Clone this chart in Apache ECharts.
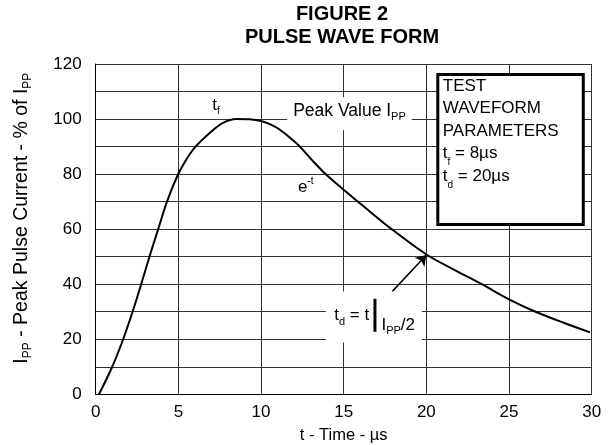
<!DOCTYPE html>
<html><head><meta charset="utf-8">
<script src="https://cdn.jsdelivr.net/npm/echarts@6/dist/echarts.min.js"></script>
<style>html,body{margin:0;padding:0;background:#fff}#c{width:608px;height:445px}</style>
</head><body><div id="c"></div>
<script>
// ---- data ----
const timeUs = [0.2, 1.0, 1.66, 2.23, 2.75, 3.25, 3.78, 4.31, 4.95, 5.5, 6.04, 7.0, 7.7, 8.5, 9.3, 10.0, 10.6, 11.1, 11.7, 12.3, 13.1, 13.9, 15.0, 16.4, 17.9, 20.0, 21.6, 23.35, 25.0, 26.6, 28.3, 29.9];
const currentPct = [0, 10, 20, 30, 40, 50, 60, 70, 79.5, 85.5, 90, 95.5, 98.6, 100, 99.9, 99.3, 98, 96.3, 93.5, 90.3, 85, 80, 74.3, 67.3, 60, 50.8, 45.5, 40, 34.5, 30, 26, 22.5];
const xTicks = [0, 5, 10, 15, 20, 25, 30];
const yTicks = [0, 20, 40, 60, 80, 100, 120];
const titleLines = ['FIGURE 2', 'PULSE WAVE FORM'];
const boxLines = ['TEST', 'WAVEFORM', 'PARAMETERS'];
const tfValue = '8µs';
const tdValue = '20µs';

const FONT = '"Liberation Sans", Arial, Helvetica, sans-serif';
const main = (fs, lh) => ({fontSize: fs, fontFamily: FONT, color: '#000', lineHeight: lh || 20, verticalAlign: 'top'});
const sub = (fs) => ({fontSize: fs, fontFamily: FONT, color: '#000', lineHeight: 6, verticalAlign: 'bottom'});

const chart = echarts.init(document.getElementById('c'), null, {renderer: 'canvas'});
const points = timeUs.map((t, i) => [t, currentPct[i]]);

function mp(coord, label) {
  return {coord: coord, symbol: 'circle', symbolSize: 0, label: Object.assign({show: true, position: 'inside'}, label)};
}

const option = {
  animation: false,
  backgroundColor: '#fff',
  title: {
    text: titleLines.join('\n'),
    left: 337, top: -2, textAlign: 'center',
    textStyle: {fontFamily: FONT, fontWeight: 'bold', fontSize: 20, lineHeight: 23, color: '#000'}
  },
  grid: {left: 95.7, right: 16.3, top: 64, bottom: 50.7, containLabel: false, outerBoundsMode: 'none'},
  xAxis: {
    type: 'value', min: xTicks[0], max: xTicks[xTicks.length - 1], interval: xTicks[1] - xTicks[0],
    name: 't - Time - µs', nameLocation: 'middle', nameGap: 33,
    nameTextStyle: {fontFamily: FONT, fontSize: 16.5, color: '#000'},
    axisLine: {lineStyle: {color: '#000', width: 1}},
    axisTick: {show: false},
    axisLabel: {fontFamily: FONT, fontSize: 17, color: '#000', margin: 10},
    splitLine: {show: true, lineStyle: {color: '#333', width: 1}}
  },
  yAxis: {
    type: 'value', min: yTicks[0], max: yTicks[yTicks.length - 1], interval: 10,
    name: '{m|I}{s|PP}{m| - Peak Pulse Current - % of I}{s|PP}',
    nameLocation: 'middle', nameGap: 62, nameRotate: 90,
    nameTextStyle: {fontFamily: FONT, fontSize: 19.5, color: '#000', padding: [0, 0, 0, 22],
      rich: {m: main(19.5, 22), s: sub(12)}},
    axisLine: {show: true, lineStyle: {color: '#000', width: 1}},
    axisTick: {show: false},
    axisLabel: {fontFamily: FONT, fontSize: 17, color: '#000', margin: 14,
      formatter: (v) => (yTicks.indexOf(v) >= 0 ? String(v) : '')},
    splitLine: {show: true, lineStyle: {color: '#333', width: 1}}
  },
  series: [{
    type: 'line',
    data: points,
    showSymbol: false,
    smooth: 0.3,
    lineStyle: {color: '#000', width: 2},
    z: 3,
    markLine: {
      silent: true, symbolSize: 10,
      label: {show: false},
      lineStyle: {color: '#000', width: 1.5, type: 'solid'},
      data: [[{coord: [17.93, 37.3], symbol: 'none'}, {coord: [20, 50.6], symbol: 'arrow'}]]
    },
    markPoint: {
      silent: true,
      data: [
        mp([7.28, 104.5], {formatter: '{m|t}{s|f}', rich: {m: main(17), s: sub(10)}}),
        mp([15.35, 101.9], {formatter: '{m|Peak Value I}{s|PP}', backgroundColor: '#fff', padding: [5, 6, 8, 6],
          rich: {m: main(17.5), s: sub(11)}}),
        mp([12.7, 75.7], {formatter: '{m|e}{p|-t}', rich: {m: {fontSize: 17, fontFamily: FONT, color: '#000', lineHeight: 20, verticalAlign: 'bottom'},
          p: {fontSize: 10, fontFamily: FONT, color: '#000', lineHeight: 8, verticalAlign: 'top'}}}),
        mp([16.83, 28.1], {formatter: '{b|}', rich: {b: {width: 96, height: 51, backgroundColor: '#fff'}}}),
        mp([15.48, 28.0], {formatter: '{m|t}{s|d}{m| = t}', rich: {m: main(17), s: sub(11)}}),
        mp([16.89, 28.7], {formatter: '{b|}', rich: {b: {width: 3, height: 33, backgroundColor: '#000'}}}),
        mp([18.3, 24.6], {formatter: '{m|I}{s|PP}{m|/2}', rich: {m: main(17), s: sub(11)}})
      ]
    }
  }]
};
chart.setOption(option);

// parameter box placed from data coordinates
const p1 = chart.convertToPixel({gridIndex: 0}, [20.6, 116.7]);
const p2 = chart.convertToPixel({gridIndex: 0}, [29.4, 62.2]);
const bx = p1[0], by = p1[1], bw = p2[0] - p1[0], bh = p2[1] - p1[1];
const boxText = boxLines.map(s => '{m|' + s + '}').join('\n') +
  '\n{m|t}{s|f}{m| = ' + tfValue + '}\n{m|t}{s|d}{m| = ' + tdValue + '}';
chart.setOption({
  graphic: [{
    type: 'group', left: bx, top: by, z: 10,
    children: [
      {type: 'rect', shape: {x: 0, y: 0, width: bw, height: bh}, style: {fill: '#fff', stroke: '#000', lineWidth: 3}},
      {type: 'text', x: 5, y: 3, style: {text: boxText, fontFamily: FONT, fill: '#000',
        rich: {m: {fontSize: 17, fontFamily: FONT, color: '#000', lineHeight: 22.5, verticalAlign: 'top'},
               s: {fontSize: 10, fontFamily: FONT, color: '#000', lineHeight: 8, verticalAlign: 'bottom'}}}}
    ]
  }]
});
</script>
</body></html>
